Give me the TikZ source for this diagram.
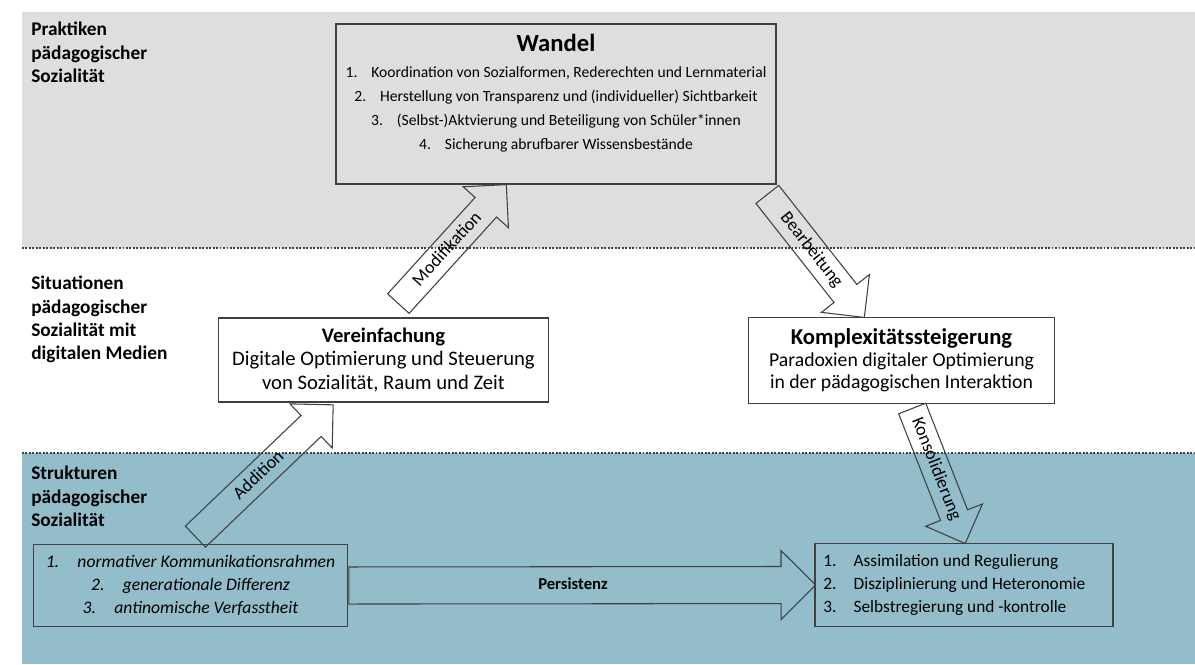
\documentclass[tikz,border=0pt]{standalone}
\usepackage{fontspec}
\setmainfont{Carlito}
\usetikzlibrary{shapes.arrows,positioning}
\definecolor{bandgrau}{RGB}{222,222,222}
\definecolor{bandblau}{RGB}{147,189,202}
\definecolor{linie}{RGB}{64,64,64}
\tikzset{
  kasten/.style={draw=linie, line width=0.8pt, inner sep=0pt, align=center},
  ebene/.style={anchor=north west, align=left, inner sep=0pt,
    font=\fontsize{14.5}{17.5}\selectfont\bfseries},
  pfeil/.style={single arrow, draw=linie, line width=0.8pt,
    single arrow head extend=12pt, inner xsep=2pt, inner ysep=4pt,
    text height=10pt, text depth=3pt, font=\fontsize{13.5}{16}\selectfont,
    pos=0, sloped, anchor=tail},
  punktlinie/.style={linie, line width=1.6pt, dash pattern=on 1.4pt off 1.2pt},
}
\newcommand{\nr}[2]{\makebox[#1][l]{#2}}
\begin{document}
\begin{tikzpicture}[x=0.75pt, y=-0.75pt]
	\useasboundingbox (0,0) rectangle (1195,664);
	% Ebenen
	\fill[bandgrau] (22,12) rectangle (1195,248);
	\fill[bandblau] (22,453) rectangle (1195,664);
	\draw[punktlinie] (22,248) -- (1195,248);
	\draw[punktlinie] (22,453) -- (1195,453);
	% Beschriftung der Ebenen
	\node[ebene] (praktiken) at (31,22) {Praktiken\\pädagogischer\\Sozialität};
	\node[ebene] (situationen) at (31,276) {Situationen\\pädagogischer\\Sozialität mit\\digitalen Medien};
	\node[ebene] (strukturen) at (31,466) {Strukturen\\pädagogischer\\Sozialität};
	% Kaesten
	\node[kasten, fill=bandgrau, minimum width=330pt, minimum height=120pt,
		font=\fontsize{11.7}{18}\selectfont] (wandel) at (556,104)
		{{\fontsize{18.5}{20}\selectfont\bfseries Wandel}\\[2pt]
		\nr{1.65em}{1.}Koordination von Sozialformen, Rederechten und Lernmaterial\\
		\nr{1.65em}{2.}Herstellung von Transparenz und (individueller) Sichtbarkeit\\
		\nr{1.65em}{3.}(Selbst-)Aktvierung und Beteiligung von Schüler*innen\\
		\nr{1.65em}{4.}Sicherung abrufbarer Wissensbestände\\
		\mbox{}};
	\node[kasten, fill=white, minimum width=247pt, minimum height=63pt,
		font=\fontsize{15.5}{17.5}\selectfont] (vereinfachung) at (383.5,360)
		{\textbf{Vereinfachung}\\Digitale Optimierung und Steuerung\\von Sozialität, Raum und Zeit};
	\node[kasten, fill=white, minimum width=229pt, minimum height=64pt,
		font=\fontsize{14.8}{16.5}\selectfont] (komplex) at (901.5,360.5)
		{{\fontsize{17}{18}\selectfont\bfseries Komplexitätssteigerung}\\Paradoxien digitaler Optimierung\\in der pädagogischen Interaktion};
	\node[kasten, minimum width=236pt, minimum height=62pt,
		font=\fontsize{13.2}{17}\selectfont\itshape] (links) at (190.5,585.5)
		{\nr{1.8em}{1.}normativer Kommunikationsrahmen\\
		\nr{1.8em}{2.}generationale Differenz\\
		\nr{1.8em}{3.}antinomische Verfasstheit};
	\node[kasten, minimum width=223.5pt, minimum height=62pt, align=flush left, text width=211pt,
		font=\fontsize{13}{17}\selectfont] (rechts) at (964,585)
		{\nr{1.75em}{1.}Assimilation und Regulierung\\
		\nr{1.75em}{2.}Disziplinierung und Heteronomie\\
		\nr{1.75em}{3.}Selbstregierung und -kontrolle};
	% Pfeile
	\coordinate (addS) at (195,537);
	\coordinate (addE) at (333,405);
	\coordinate (modS) at (398,304);
	\coordinate (modE) at (506,185);
	\coordinate (bearS) at (767,194);
	\coordinate (bearE) at (864,317);
	\coordinate (konsS) at (912,408);
	\coordinate (konsE) at (965,543);
	\path (addS) -- (addE) node[pfeil, minimum height=143pt] (addition) {Addition};
	\path (modS) -- (modE) node[pfeil, minimum height=120.5pt] (modifikation) {Modifikation};
	\path (bearS) -- (bearE) node[pfeil, minimum height=117.5pt] (bearbeitung) {Bearbeitung};
	\path (konsS) -- (konsE) node[pfeil, minimum height=108.8pt] (konsolidierung) {Konsolidierung};
	\path (links.east) -- (rechts.west) node[pfeil, minimum height=350pt, inner ysep=7pt,
		font=\fontsize{12.5}{16}\selectfont\bfseries] (persistenz) {Persistenz};
\end{tikzpicture}
\end{document}
